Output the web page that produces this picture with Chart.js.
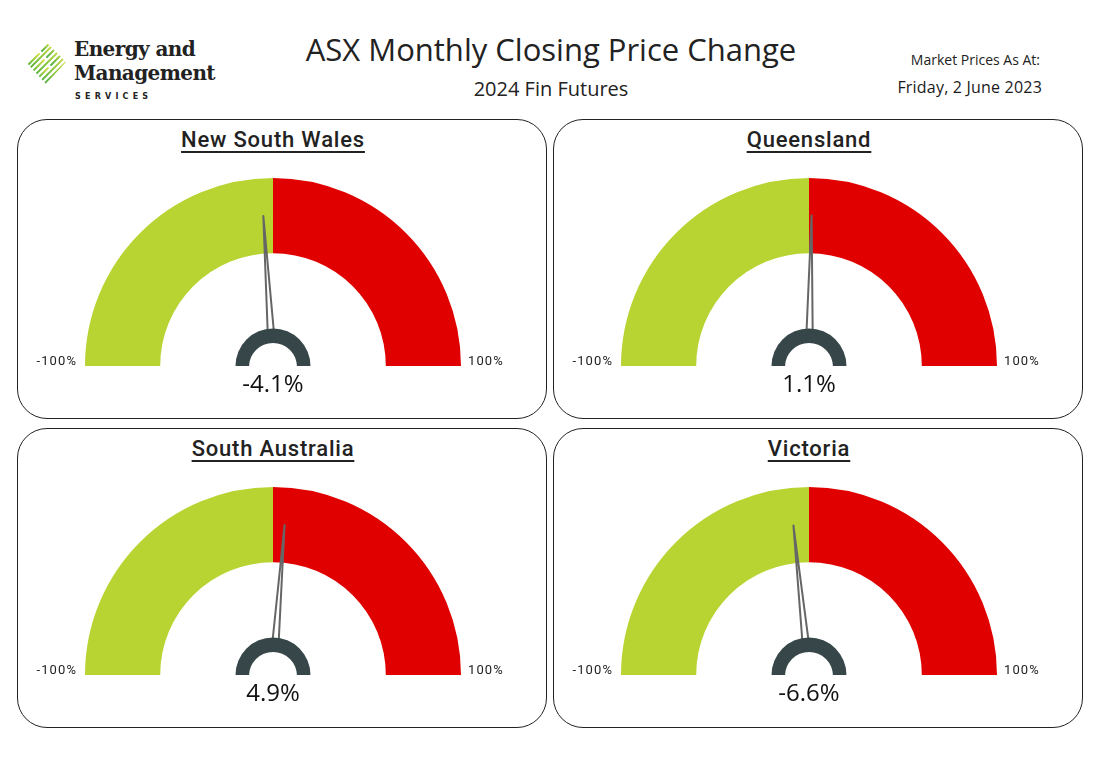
<!DOCTYPE html>
<html>
<head>
<meta charset="utf-8">
<script src="https://cdn.jsdelivr.net/npm/chart.js@4/dist/chart.umd.min.js"></script>
<style>
  body { margin: 0; background: #fff; font-family: "Open Sans", sans-serif; color: #222; }
  #page { position: relative; width: 1099px; height: 769px; overflow: hidden; }
  .abs { position: absolute; }
  .panel { position: absolute; width: 530px; height: 300px; }
  .frame { position: absolute; left: 0; top: 0; right: 0; bottom: 0; border: 1.3px solid #222; border-radius: 30px; box-sizing: border-box; }
  .panel canvas { position: absolute; left: 0; top: 0; }
  .ptitle { position: absolute; left: 0; width: 512px; top: 8px; text-align: center; font-family: Roboto, sans-serif; font-weight: 500;
            font-size: 22px; letter-spacing: 0.8px; color: #222;
            text-decoration: underline; text-decoration-thickness: 2px; text-underline-offset: 4px; }
</style>
</head>
<body>
<div id="page">
  <svg class="abs" style="left:24px;top:40px" width="44" height="46" viewBox="0 0 44 46">
    <defs>
      <linearGradient id="lg" x1="0" y1="1" x2="1" y2="0">
        <stop offset="0" stop-color="#4caf3c"/>
        <stop offset="0.6" stop-color="#9ccc3c"/>
        <stop offset="1" stop-color="#d7e04a"/>
      </linearGradient>
      <clipPath id="dm"><polygon points="22,2 42,22 22,44 2,22"/></clipPath>
    </defs>
    <g clip-path="url(#dm)" stroke="url(#lg)" stroke-width="1.8" stroke-linecap="round">
      <line x1="0" y1="22" x2="22" y2="0"/>
      <line x1="3" y1="26" x2="15" y2="14"/><line x1="18" y1="11" x2="26" y2="3"/>
      <line x1="4" y1="30" x2="30" y2="4"/>
      <line x1="7" y1="33" x2="20" y2="20"/><line x1="23" y1="17" x2="34" y2="6"/>
      <line x1="10" y1="36" x2="38" y2="8"/>
      <line x1="13" y1="39" x2="24" y2="28"/><line x1="27" y1="25" x2="40" y2="12"/>
      <line x1="16" y1="42" x2="44" y2="14"/>
      <line x1="20" y1="44" x2="44" y2="20"/>
    </g>
  </svg>
  <div class="abs" style="left:74px;top:37px;font-family:'DejaVu Serif',serif;font-weight:bold;font-size:20px;line-height:24px;color:#222;letter-spacing:-0.6px">Energy and<br>Management</div>
  <div class="abs" style="left:75px;top:92px;font-family:'DejaVu Sans',sans-serif;font-weight:bold;font-size:8px;letter-spacing:4.2px;color:#222">SERVICES</div>

  <div class="abs" style="left:0;width:1102px;top:28px;text-align:center;font-size:31px;color:#222">ASX Monthly Closing Price Change</div>
  <div class="abs" style="left:0;width:1102px;top:75px;text-align:center;font-size:20px;color:#222">2024 Fin Futures</div>
  <div class="abs" style="right:59px;top:50px;font-size:14px;color:#222">Market Prices As At:</div>
  <div class="abs" style="right:57px;top:76px;font-size:16px;color:#1a1a1a;letter-spacing:0.2px">Friday, 2 June 2023</div>

  <div class="panel" style="left:17px;top:119px"><div class="frame"></div><div class="ptitle">New South Wales</div><canvas id="g0" width="530" height="300"></canvas></div>
  <div class="panel" style="left:553px;top:119px"><div class="frame"></div><div class="ptitle">Queensland</div><canvas id="g1" width="530" height="300"></canvas></div>
  <div class="panel" style="left:17px;top:428px"><div class="frame"></div><div class="ptitle">South Australia</div><canvas id="g2" width="530" height="300"></canvas></div>
  <div class="panel" style="left:553px;top:428px"><div class="frame"></div><div class="ptitle">Victoria</div><canvas id="g3" width="530" height="300"></canvas></div>
</div>
<script>
// monthly closing price change, per region (%)
var regions = ['New South Wales', 'Queensland', 'South Australia', 'Victoria'];
var changes = [-4.1, 1.1, 4.9, -6.6];
var gaugeMin = -100;
var gaugeMax = 100;
var tickLabels = ['-100%', '100%'];
var bandColors = ['#B8D432', '#E00000'];

// needle, hub and texts drawn on top of the half doughnut
var gaugeExtras = {
  id: 'gaugeExtras',
  afterDatasetsDraw: function(chart) {
    var ctx = chart.ctx;
    var arc = chart.getDatasetMeta(0).data[0];
    var cx = arc.x, cy = arc.y, R = arc.outerRadius;
    var v = chart.config.options.plugins.gaugeExtras.value;
    var f = (v - gaugeMin) / (gaugeMax - gaugeMin);
    var a = -Math.PI + f * Math.PI;
    var tipR = R * 0.8;
    var px = Math.cos(a + Math.PI / 2) * 4, py = Math.sin(a + Math.PI / 2) * 4;

    ctx.save();
    ctx.beginPath();
    ctx.rect(0, 0, chart.width, cy - 2);
    ctx.clip();
    ctx.beginPath();
    ctx.moveTo(cx + Math.cos(a) * tipR, cy + Math.sin(a) * tipR);
    ctx.lineTo(cx + px, cy + py);
    ctx.lineTo(cx - px, cy - py);
    ctx.closePath();
    ctx.fillStyle = '#fff';
    ctx.fill();
    ctx.lineWidth = 2;
    ctx.lineJoin = 'round';
    ctx.strokeStyle = '#666';
    ctx.stroke();
    ctx.restore();

    ctx.save();
    // hub
    ctx.beginPath();
    ctx.arc(cx, cy, 37.5, Math.PI, 2 * Math.PI);
    ctx.closePath();
    ctx.fillStyle = '#374649';
    ctx.fill();
    ctx.beginPath();
    ctx.arc(cx, cy + 1, 24, Math.PI, 2 * Math.PI);
    ctx.closePath();
    ctx.fillStyle = '#fff';
    ctx.fill();

    // end labels
    ctx.font = '13px Roboto, sans-serif';
    ctx.letterSpacing = '1.1px';
    ctx.fillStyle = '#222';
    ctx.textBaseline = 'middle';
    ctx.textAlign = 'right';
    ctx.fillText(tickLabels[0], cx - R - 8, cy - 4);
    ctx.textAlign = 'left';
    ctx.fillText(tickLabels[1], cx + R + 7, cy - 4);

    // value
    ctx.letterSpacing = '0px';
    ctx.font = '24px "Open Sans", sans-serif';
    ctx.textAlign = 'center';
    ctx.fillStyle = '#111';
    ctx.fillText(v.toFixed(1) + '%', cx, cy + 19);
    ctx.restore();
  }
};

regions.forEach(function(name, i) {
  new Chart(document.getElementById('g' + i), {
    type: 'doughnut',
    data: {
      labels: ['Below', 'Above'],
      datasets: [{
        data: [0 - gaugeMin, gaugeMax - 0],
        backgroundColor: bandColors,
        borderWidth: 0,
        hoverOffset: 0
      }]
    },
    options: {
      responsive: false,
      animation: false,
      rotation: -90,
      circumference: 180,
      cutout: '60%',
      layout: { padding: { left: 68, right: 86, top: 59, bottom: 53 } },
      plugins: {
        legend: { display: false },
        tooltip: { enabled: false },
        gaugeExtras: { value: changes[i] }
      },
      events: []
    },
    plugins: [gaugeExtras]
  });
});
</script>
</body>
</html>
